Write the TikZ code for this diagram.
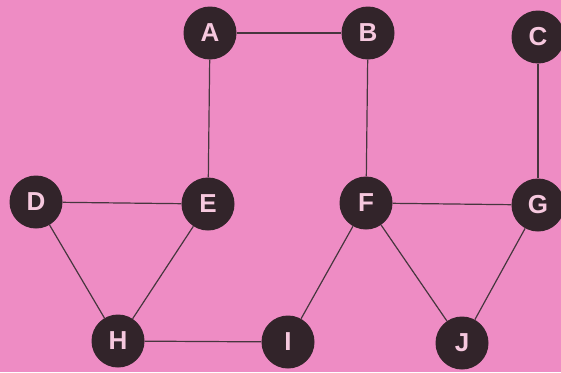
\documentclass[tikz,border=0pt]{standalone}
\usepackage{fontspec}
\setmainfont{Liberation Sans}
\definecolor{bgpink}{RGB}{238,140,196}
\definecolor{nodedark}{RGB}{50,36,42}
\definecolor{labelpink}{RGB}{246,200,222}
\definecolor{edgegray}{RGB}{70,54,62}
\begin{document}
\begin{tikzpicture}[x=1pt,y=-1pt,
  vertex/.style={circle,fill=nodedark,minimum size=53pt,inner sep=0pt,
    text=labelpink,font=\fontsize{26}{26}\selectfont\bfseries},
  edge/.style={draw=edgegray,line width=1.2pt}]
  \fill[bgpink] (0,0) rectangle (561,372);
  \useasboundingbox (0,0) rectangle (561,372);
  % vertices
  \node[vertex] (A) at (210,33) {A};
  \node[vertex] (B) at (368,33) {B};
  \node[vertex] (C) at (538,37) {C};
  \node[vertex] (D) at (36,202) {D};
  \node[vertex] (E) at (208,204) {E};
  \node[vertex] (F) at (366,203) {F};
  \node[vertex] (G) at (538,205) {G};
  \node[vertex] (H) at (118,341) {H};
  \node[vertex] (I) at (288,342) {I};
  \node[vertex] (J) at (462,343) {J};
  % edges
  \draw[edge] (A) -- (B);
  \draw[edge] (A) -- (E);
  \draw[edge] (B) -- (F);
  \draw[edge] (C) -- (G);
  \draw[edge] (D) -- (E);
  \draw[edge] (D) -- (H);
  \draw[edge] (E) -- (H);
  \draw[edge] (H) -- (I);
  \draw[edge] (I) -- (F);
  \draw[edge] (F) -- (G);
  \draw[edge] (F) -- (J);
  \draw[edge] (G) -- (J);
\end{tikzpicture}
\end{document}
